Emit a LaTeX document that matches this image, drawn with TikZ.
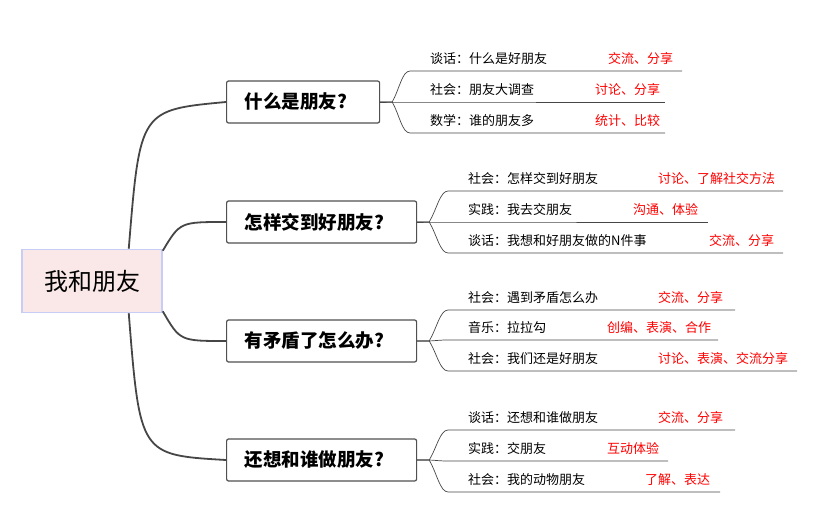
\documentclass[tikz,border=0pt]{standalone}
\usepackage{fontspec}
\setmainfont{Noto Sans CJK SC}
\usetikzlibrary{positioning,calc}
\tikzset{
    %root box
    wurzel/.style={
           rectangle,
           draw={rgb,255:red,200;green,205;blue,245}, line width=1.5pt,
           fill={rgb,255:red,250;green,232;blue,232},
           minimum width=140pt, minimum height=63pt,
           font=\fontsize{24}{28}\selectfont},
    %branch boxes
    ast/.style={
           rectangle,
           rounded corners=2pt,
           draw={rgb,255:red,80;green,80;blue,80}, line width=1.2pt,
           minimum height=42pt, anchor=west, inner xsep=18pt, align=left,
           font=\fontsize{18.5}{22}\selectfont\bfseries},
    blatt/.style={anchor=west, inner sep=0pt, font=\fontsize{13}{15}\selectfont},
    rot/.style={blatt, text=red},
    linie/.style={draw={rgb,255:red,70;green,70;blue,70}, line width=0.7pt},
    dick/.style={draw={rgb,255:red,70;green,70;blue,70}, line width=1.8pt}
}
\begin{document}
\begin{tikzpicture}[x=1pt, y=-1pt]
\useasboundingbox (0,0) rectangle (816,526);

\node[wurzel] (root) at (92,281) {我和朋友};

\node[ast, text width=117pt] (a1) at (226,102) {什么是朋友?};
\node[ast, text width=154pt] (a2) at (226,222) {怎样交到好朋友?};
\node[ast, text width=154pt] (a3) at (226,341) {有矛盾了怎么办?};
\node[ast, text width=154pt] (a4) at (226,460) {还想和谁做朋友?};

% root to branches
\draw[dick] (root.north east) ++(-34,0) .. controls (140,110) .. (a1.west);
\draw[dick] (root.north east) ++(0,2) .. controls (180,222) .. (a2.west);
\draw[dick] (root.south east) ++(0,-2) .. controls (180,341) .. (a3.west);
\draw[dick] (root.south east) ++(-34,0) .. controls (140,455) .. (a4.west);

% leaves: branch, x of text, start of line, y, text, x of red, red, end of line
\foreach \a/\xt/\xs/\y/\t/\xr/\r/\xe [count=\i] in {
  a1/430/410/59/谈话：什么是好朋友/608/交流、分享/682,
  a1/430/410/90/社会：朋友大调查/595/讨论、分享/665,
  a1/430/410/121/数学：谁的朋友多/595/统计、比较/665,
  a2/468/448/179/社会：怎样交到好朋友/658/讨论、了解社交方法/783,
  a2/468/448/210/实践：我去交朋友/633/沟通、体验/708,
  a2/468/448/241/谈话：我想和好朋友做的N件事/709/交流、分享/783,
  a3/468/448/298/社会：遇到矛盾怎么办/658/交流、分享/735,
  a3/468/448/328/音乐：拉拉勾/607/创编、表演、合作/718,
  a3/468/448/359/社会：我们还是好朋友/658/讨论、表演、交流分享/797,
  a4/468/448/418/谈话：还想和谁做朋友/658/交流、分享/735,
  a4/468/448/449/实践：交朋友/607/互动体验/668,
  a4/468/448/480/社会：我的动物朋友/645/了解、表达/720}{
  \node[blatt] (t\i) at (\xt,\y) {\t};
  \node[rot] (r\i) at (\xr,\y) {\r};
  \coordinate (f\i) at ($(\a.east)+(12,0)$);
  \coordinate (s\i) at (\xs,\y+12);
  \coordinate (e\i) at (\xe,\y+12);
  \draw[linie] (\a.east) -- (f\i) .. controls ($(f\i)!0.4!(s\i)$) and ($(s\i)+(-8,0)$) .. (s\i) -- (e\i);
}
\end{tikzpicture}
\end{document}
